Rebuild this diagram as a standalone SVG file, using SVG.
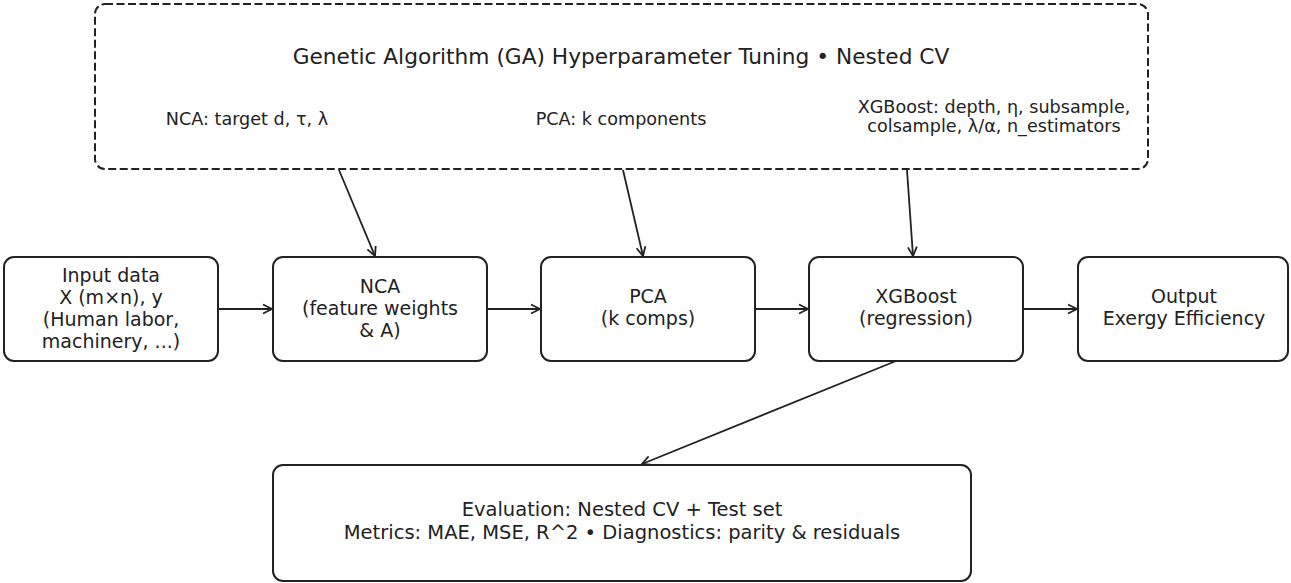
<svg xmlns="http://www.w3.org/2000/svg" width="1291" height="583" viewBox="0 0 1291 583">
  <style>
    .box { fill: #ffffff; stroke: #222222; stroke-width: 2; }
    .dash { fill: #ffffff; stroke: #222222; stroke-width: 2; stroke-dasharray: 8 3.5; }
    .lbl { font-family: "DejaVu Sans", sans-serif; fill: #222222; text-anchor: middle; }
    .node { font-size: 19px; }
    .eval { font-size: 19.5px; }
    .sub { font-size: 17.6px; }
    .title { font-size: 21.7px; }
    .edge { fill: none; stroke: #222222; stroke-width: 1.8; marker-end: url(#arrow); }
  </style>
  <defs>
    <marker id="arrow" viewBox="-11 -7 13 14" markerWidth="13" markerHeight="14" refX="0" refY="0" markerUnits="userSpaceOnUse" orient="auto">
      <path d="M -9 -4.5 L 0 0 L -9 4.5" fill="none" stroke="#222222" stroke-width="1.8" stroke-linejoin="miter"/>
    </marker>
  </defs>
  <rect width="1291" height="583" fill="#ffffff"/>

  <!-- hyperparameter search frame -->
  <g id="ga-tuning">
    <rect class="dash" x="95" y="4" width="1053" height="165" rx="10" ry="10"/>
    <text class="lbl title" x="621" y="64">Genetic Algorithm (GA) Hyperparameter Tuning • Nested CV</text>
    <text class="lbl sub" x="247" y="125">NCA: target d, τ, λ</text>
    <text class="lbl sub" x="621" y="125">PCA: k components</text>
    <text class="lbl sub" x="994" y="113">XGBoost: depth, η, subsample,</text>
    <text class="lbl sub" x="994" y="132">colsample, λ/α, n_estimators</text>
  </g>

  <!-- pipeline stages -->
  <g id="input">
    <rect class="box" x="4" y="257" width="214" height="104" rx="10" ry="10"/>
    <text class="lbl node" x="111" y="282">Input data</text>
    <text class="lbl node" x="111" y="304">X (m×n), y</text>
    <text class="lbl node" x="111" y="326">(Human labor,</text>
    <text class="lbl node" x="111" y="348">machinery, ...)</text>
  </g>
  <g id="nca">
    <rect class="box" x="273" y="257" width="214" height="104" rx="10" ry="10"/>
    <text class="lbl node" x="380" y="293">NCA</text>
    <text class="lbl node" x="380" y="315">(feature weights</text>
    <text class="lbl node" x="380" y="337">&amp; A)</text>
  </g>
  <g id="pca">
    <rect class="box" x="541" y="257" width="214" height="104" rx="10" ry="10"/>
    <text class="lbl node" x="648" y="303">PCA</text>
    <text class="lbl node" x="648" y="325">(k comps)</text>
  </g>
  <g id="xgboost">
    <rect class="box" x="809" y="257" width="214" height="104" rx="10" ry="10"/>
    <text class="lbl node" x="916" y="303">XGBoost</text>
    <text class="lbl node" x="916" y="325">(regression)</text>
  </g>
  <g id="output">
    <rect class="box" x="1078" y="257" width="210" height="104" rx="10" ry="10"/>
    <text class="lbl node" x="1184" y="303">Output</text>
    <text class="lbl node" x="1184" y="325">Exergy Efficiency</text>
  </g>
  <g id="evaluation">
    <rect class="box" x="273" y="465" width="698" height="116" rx="10" ry="10"/>
    <text class="lbl eval" x="622" y="516">Evaluation: Nested CV + Test set</text>
    <text class="lbl eval" x="622" y="539">Metrics: MAE, MSE, R^2 • Diagnostics: parity &amp; residuals</text>
  </g>

  <!-- connectors -->
  <g id="connectors">
    <line class="edge" x1="339" y1="170" x2="375" y2="256"/>
    <line class="edge" x1="623" y1="170" x2="643" y2="256"/>
    <line class="edge" x1="907" y1="170" x2="913" y2="256"/>
    <line class="edge" x1="218" y1="309" x2="272" y2="309"/>
    <line class="edge" x1="487" y1="309" x2="540" y2="309"/>
    <line class="edge" x1="755" y1="309" x2="808" y2="309"/>
    <line class="edge" x1="1023" y1="309" x2="1077" y2="309"/>
    <line class="edge" x1="896" y1="361" x2="642" y2="464"/>
  </g>
</svg>
